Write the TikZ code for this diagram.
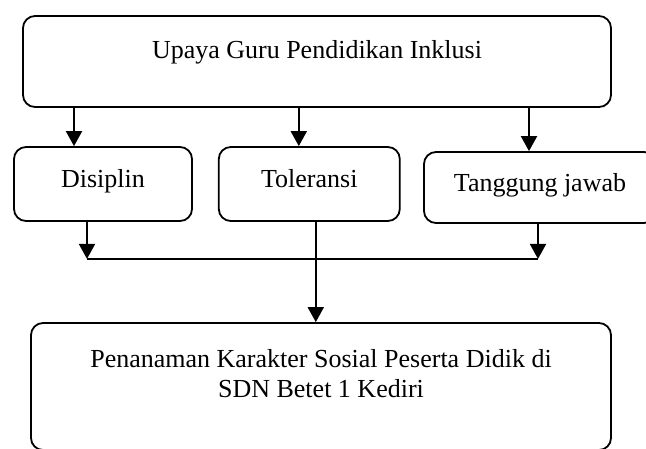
\documentclass[tikz,border=0pt]{standalone}
\usepackage{fontspec}
\setmainfont{Liberation Serif}
\usetikzlibrary{positioning,arrows.meta}
\tikzset{
  box/.style  = {rectangle, rounded corners=12pt, draw=black, line width=1.8pt,
                 inner sep=0pt, align=center, font=\fontsize{26}{30}\selectfont},
  flow/.style = {-{Triangle[length=15pt,width=16pt]}, line width=2pt},
  link/.style = {line width=1.5pt},
}
\begin{document}
\begin{tikzpicture}[x=1pt,y=1pt]
  \useasboundingbox (0,0) rectangle (646,-448);
  \clip (0,0) rectangle (646,-448);
  \node[box, minimum width=588pt, text height=42pt, text depth=49pt] (upaya) at (317,-61.5) {Upaya Guru Pendidikan Inklusi};
  \node[box, minimum width=178pt, text height=40pt, text depth=34pt] (disiplin) at (103,-184) {Disiplin};
  \node[box, minimum width=181pt, text height=40pt, text depth=34pt, right=25pt of disiplin] (toleransi) {Toleransi};
  \node[box, minimum width=232pt, text height=39pt, text depth=32pt] (tanggung) at (540,-187.5) {Tanggung jawab};
  \node[box, minimum width=580pt, text height=74pt, text depth=53pt] (tujuan) at (321,-386.5)
    {Penanaman Karakter Sosial Peserta Didik di\\SDN Betet 1 Kediri};
  % from the top box
  \draw[flow] ([xshift=-29pt]disiplin.north |- upaya.south) -- ([xshift=-29pt]disiplin.north);
  \draw[flow] ([xshift=-10.5pt]toleransi.north |- upaya.south) -- ([xshift=-10.5pt]toleransi.north);
  \draw[flow] ([xshift=-11pt]tanggung.north |- upaya.south) -- ([xshift=-11pt]tanggung.north);
  % down to the joining bar
  \draw[flow] ([xshift=-16pt]disiplin.south) -- ++(0,-37) coordinate (barL);
  \draw[flow] ([xshift=-2pt]tanggung.south) -- ([xshift=-2pt]tanggung.south |- barL) coordinate (barR);
  \draw[link] (barL) -- (barR);
  \draw[flow] ([xshift=6.5pt]toleransi.south) -- ([xshift=6.5pt]toleransi.south |- tujuan.north);
\end{tikzpicture}
\end{document}
